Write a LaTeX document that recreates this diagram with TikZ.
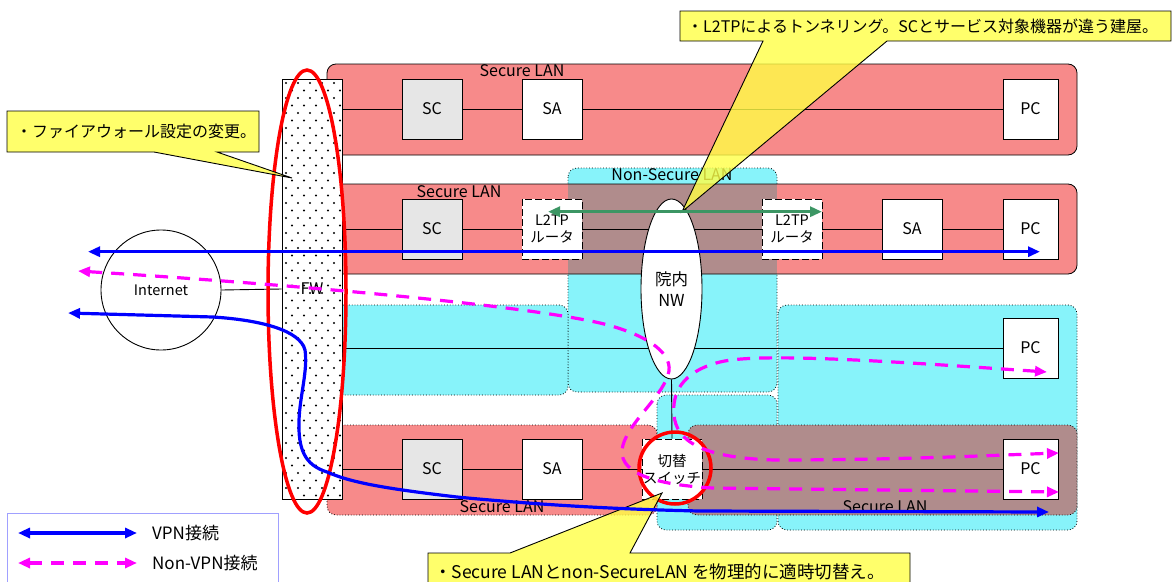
\documentclass[tikz,border=0pt]{standalone}
\usepackage{fontspec}
\newfontfamily\jp{Noto Sans CJK JP}
\usetikzlibrary{arrows.meta,shapes.geometric}
\definecolor{lanred}{RGB}{247,138,138}
\definecolor{lancyan}{RGB}{135,243,250}
\definecolor{lanmix}{RGB}{176,140,140}
\definecolor{scgray}{RGB}{230,230,230}
\definecolor{callyellow}{RGB}{255,255,70}
\definecolor{tunnelgreen}{RGB}{60,150,100}
\definecolor{legendborder}{RGB}{160,160,255}
\definecolor{pinkline}{RGB}{255,0,255}
\definecolor{vpnblue}{RGB}{0,0,255}
\definecolor{ringred}{RGB}{255,0,0}
\tikzset{
  redlan/.style={fill=lanred, draw=black, line width=0.8pt, rounded corners=9pt},
  redlandot/.style={fill=lanred, draw=black, line width=0.8pt, dotted, rounded corners=9pt},
  cyanlan/.style={fill=lancyan, draw=black, line width=0.8pt, dotted, rounded corners=9pt},
  devbox/.style={draw, line width=0.9pt, minimum width=60pt, minimum height=60pt, inner sep=0pt, fill=white, font=\jp\fontsize{16}{18}\selectfont},
  scbox/.style={devbox, fill=scgray},
  pcbox/.style={devbox, minimum width=55pt},
  dashbox/.style={devbox, dash pattern=on 7pt off 3pt, align=center, font=\jp\fontsize{14.5}{17}\selectfont},
  wire/.style={line width=0.9pt},
  lanlabel/.style={font=\jp\fontsize{16}{18}\selectfont, inner sep=0pt},
  tipb/.tip={Triangle[length=12pt,width=10pt]},
  vpn/.style={vpnblue, line width=3.2pt, tipb-tipb},
  nonvpn/.style={pinkline, line width=3.2pt, dash pattern=on 13pt off 9pt, tipb-tipb},
  tunnel/.style={tunnelgreen, line width=3.4pt, tipb-tipb},
  redring/.style={ringred, line width=3.5pt},
  callout/.style={fill=callyellow, fill opacity=0.8, draw=black, line width=0.9pt},
  calltext/.style={font=\jp\fontsize{16}{18}\selectfont, inner sep=0pt, anchor=west},
}
\begin{document}
\begin{tikzpicture}[x=1pt,y=-1pt]
\useasboundingbox (0,0) rectangle (1174,581);
% ---------- Non-Secure LAN backgrounds
\path[cyanlan] (568,168) rectangle (777,392);
\path[cyanlan] (335,305) rectangle (568,395);
\path[cyanlan] (778,305) rectangle (1077,530);
\path[cyanlan] (657,395) rectangle (777,530);
\node[lanlabel] (nslabel) at (672,175) {Non-Secure LAN};
% ---------- Secure LAN rows
\path[redlan] (327,64) rectangle (1077,155);
\path[fill=lanred, rounded corners=9pt] (327,184) rectangle (1077,274);
\fill[lanmix] (568,184) rectangle (777,274);
\draw[line width=0.8pt, rounded corners=9pt] (327,184) rectangle (1077,274);
\path[redlandot] (327,425) rectangle (657,515);
\path[fill=lanmix, draw=black, line width=0.8pt, dotted, rounded corners=9pt] (688,425) rectangle (1077,515);
\node[lanlabel] (l1) at (522,70.5) {Secure LAN};
\node[lanlabel] (l2) at (459,191.5) {Secure LAN};
\node[lanlabel] (l4a) at (502,507) {Secure LAN};
\node[lanlabel] (l4b) at (885,507) {Secure LAN};
% ---------- devices
\node[scbox] (sc1) at (432,109) {SC};
\node[devbox] (sa1) at (552,109) {SA};
\node[pcbox] (pc1) at (1030.5,109) {PC};
\node[scbox] (sc2) at (432,229) {SC};
\node[dashbox] (l2a) at (552,229) {L2TP\\ルータ};
\node[dashbox] (l2b) at (792,229) {L2TP\\ルータ};
\node[devbox] (sa2) at (912,229) {SA};
\node[pcbox] (pc2) at (1030.5,229) {PC};
\node[pcbox] (pc3) at (1030.5,348) {PC};
\node[scbox] (sc4) at (432,469) {SC};
\node[devbox] (sa4) at (552,469) {SA};
\node[dashbox] (sw) at (672,469) {切替\\スイッチ};
\node[pcbox] (pc4) at (1030.5,469) {PC};
% ---------- FW
\fill[white] (282,79) rectangle (342,499);
\begin{scope}
\clip (283,80) rectangle (341,498);
\foreach \j in {0,...,56} {
  \foreach \i in {0,...,5} {
    \fill ({286+\i*12+mod(\j,2)*6},{83+\j*7.5}) circle (1.1pt);
  }
}
\end{scope}
\node[draw, line width=0.9pt, minimum width=60pt, minimum height=420pt, inner sep=0pt,
      font=\jp\fontsize{16}{18}\selectfont] (fw) at (312,289) {FW};
% ---------- wires
\draw[wire] (sc1.west -| fw.east) -- (sc1.west) (sc1.east) -- (sa1.west) (sa1.east) -- (pc1.west);
\draw[wire] (sc2.west -| fw.east) -- (sc2.west) (sc2.east) -- (l2a.west) (l2a.east) -- (l2b.west)
            (l2b.east) -- (sa2.west) (sa2.east) -- (pc2.west);
\draw[wire] (pc3.west -| fw.east) -- (pc3.west);
\draw[wire] (sc4.west -| fw.east) -- (sc4.west) (sc4.east) -- (sa4.west) (sa4.east) -- (sw.west) (sw.east) -- (pc4.west);
% redraw dashed boxes on top of the wires
\node[dashbox] at (l2a) {L2TP\\ルータ};
\node[dashbox] at (l2b) {L2TP\\ルータ};
\node[dashbox] at (sw) {切替\\スイッチ};
% ---------- Internet and hospital network
\node[circle, draw, line width=0.9pt, fill=white, minimum size=120pt, inner sep=0pt,
      font=\jp\fontsize{14.5}{16}\selectfont] (inet) at (161,290) {Internet};
\draw[wire] (inet.east) -- (fw.west);
\node[ellipse, draw, line width=0.9pt, fill=white, minimum width=61pt, minimum height=180pt, inner sep=0pt,
      align=center, font=\jp\fontsize{16.5}{21}\selectfont] (nw) at (671.5,289) {院内\\NW};
\draw[wire] (nw.south) -- (sw.north);
% ---------- red rings
\draw[redring] (307,291.5) ellipse [x radius=39, y radius=221.5];
\draw[redring] (675,468) circle [radius=36];
% ---------- callouts
\coordinate (tipA) at (682,211.7);
\coordinate (tipB) at (292,178);
\coordinate (tipC) at (662,493);
\path[callout] (680,11) -- (1171,11) -- (1171,41) -- (887,41) -- (tipA) -- (763,41) -- (680,41) -- cycle;
\node[calltext] (c1) at (687,26) {・L2TPによるトンネリング。SCとサービス対象機器が違う建屋。};
\path[callout] (7,111) -- (259,111) -- (259,152) -- (217,152) -- (tipB) -- (154,152) -- (7,152) -- cycle;
\node[calltext] (c2) at (16,131) {・ファイアウォール設定の変更。};
\path[callout] (428,553) -- (510,553) -- (tipC) -- (630,553) -- (910,553) -- (910,592) -- (428,592) -- cycle;
\node[calltext, font=\jp\fontsize{17.5}{20}\selectfont] (c3) at (434,572) {・Secure LANとnon-SecureLAN を物理的に適時切替え。};
% ---------- arrows
\coordinate (g1) at (548,211.7);
\coordinate (g2) at (822,211.7);
\draw[tunnel] (g1) -- (g2);
\coordinate (b1) at (88,251.7);
\coordinate (b2) at (1040,251.7);
\draw[vpn] (b1) -- (b2);
\coordinate (b3) at (68,313);
\coordinate (b4) at (1049,512);
\draw[vpn] (b3) -- (213,317) .. controls (260,320) and (300,330) .. (305,350)
  .. controls (308,370) and (300,395) .. (299,420)
  .. controls (298,450) and (305,465) .. (327,472)
  .. controls (350,482) and (380,488) .. (457,497)
  .. controls (520,503) and (600,509) .. (700,511) -- (b4);
\coordinate (m1) at (78,271);
\coordinate (m2) at (1059,492);
\draw[nonvpn] (m1) .. controls (300,285) and (520,305) .. (600,323)
  .. controls (650,335) and (675,355) .. (668,375)
  .. controls (660,400) and (625,425) .. (622,450)
  .. controls (620,475) and (660,485) .. (713,488) -- (m2);
\coordinate (m3) at (1047,372);
\coordinate (m4) at (1059,453);
\draw[nonvpn] (m3) .. controls (900,362) and (760,352) .. (720,362)
  .. controls (680,372) and (672,395) .. (674,415)
  .. controls (676,440) and (700,458) .. (775,460)
  .. controls (900,460) and (1000,455) .. (m4);
% ---------- legend
\draw[legendborder, line width=1pt] (7,585) -- (7,513) -- (278,513) -- (278,585);
\coordinate (lv1) at (18,533);
\coordinate (lv2) at (137,533);
\draw[vpn] (lv1) -- (lv2);
\node[calltext, font=\jp\fontsize{17}{19}\selectfont] (lt1) at (152,533) {VPN接続};
\coordinate (ln1) at (18,563);
\coordinate (ln2) at (137,563);
\draw[nonvpn] (ln1) -- (ln2);
\node[calltext, font=\jp\fontsize{17}{19}\selectfont] (lt2) at (152,563) {Non-VPN接続};
\end{tikzpicture}
\end{document}
